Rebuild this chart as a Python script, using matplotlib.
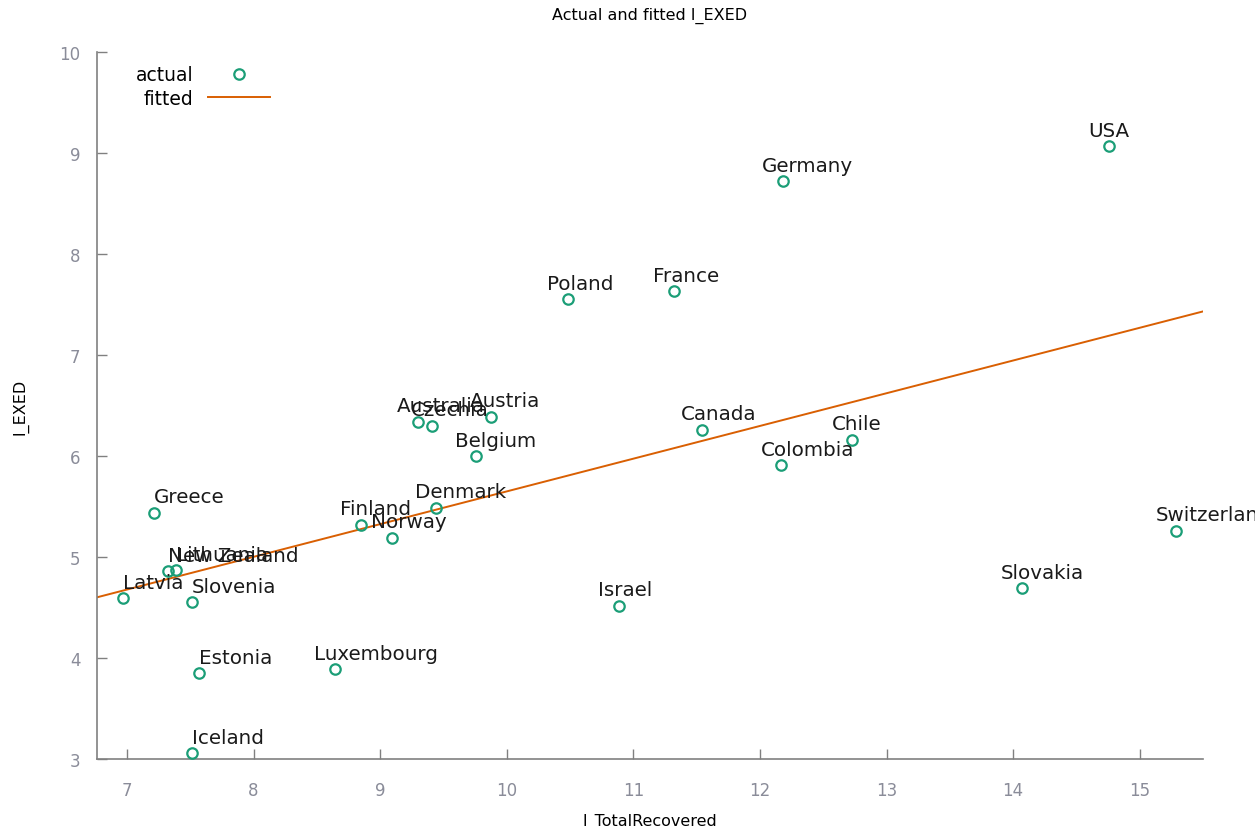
import matplotlib
matplotlib.use("Agg")
import matplotlib.pyplot as plt
import numpy as np

# country observations: log total recovered vs log EXED
countries = ["USA", "Germany", "France", "Poland", "Austria", "Australia",
             "Czechia", "Belgium", "Canada", "Chile", "Colombia", "Greece",
             "Denmark", "Finland", "Norway", "Switzerland", "New Zealand",
             "Lithuania", "Latvia", "Slovenia", "Israel", "Slovakia",
             "Estonia", "Luxembourg", "Iceland"]
l_total_recovered = [14.76, 12.18, 11.32, 10.48, 9.875, 9.30,
                     9.41, 9.76, 11.54, 12.73, 12.17, 7.21,
                     9.44, 8.85, 9.09, 15.29, 7.32,
                     7.39, 6.97, 7.51, 10.89, 14.07,
                     7.57, 8.64, 7.51]
l_exed = [9.07, 8.72, 7.63, 7.55, 6.39, 6.34,
          6.30, 6.00, 6.26, 6.16, 5.91, 5.44,
          5.49, 5.32, 5.19, 5.26, 4.86,
          4.87, 4.59, 4.55, 4.52, 4.69,
          3.85, 3.89, 3.06]

# OLS fit: l_EXED = b0 + b1 * l_TotalRecovered
b0 = 2.41
b1 = 0.324

x_ticks = [7, 8, 9, 10, 11, 12, 13, 14, 15]
y_ticks = [3, 4, 5, 6, 7, 8, 9, 10]
x_range = (6.763, 15.5)
y_range = (3, 10)

green = "#1b9e77"
orange = "#d95f02"
axis_grey = "#808080"
tick_grey = "#8a8c99"

fig = plt.figure(figsize=(12.55, 8.29), dpi=100)
ax = fig.add_axes([0.0773, 0.0832, 0.8813, 0.8528])

ax.plot(l_total_recovered, l_exed, linestyle="none", marker="o",
        markersize=7.5, markerfacecolor="none", markeredgecolor=green,
        markeredgewidth=1.6, label="actual", clip_on=False, zorder=3)

xs = np.array(x_range)
ax.plot(xs, b0 + b1 * xs, color=orange, linewidth=1.4, label="fitted")

# point labels, gretl style: above the marker
for name, x, y in zip(countries, l_total_recovered, l_exed):
    dx = 0 if x < 8 else -21
    ax.annotate(name, (x, y), xytext=(dx * 0.72, 7.5), textcoords="offset points",
                ha="left", va="baseline", fontsize=14.3, color="#1a1a1a",
                annotation_clip=False)

ax.set_xlim(*x_range)
ax.set_ylim(*y_range)
ax.set_xticks(x_ticks)
ax.set_yticks(y_ticks)

for side in ["top", "right"]:
    ax.spines[side].set_visible(False)
for side in ["left", "bottom"]:
    ax.spines[side].set_color(axis_grey)
    ax.spines[side].set_linewidth(1.2)

ax.tick_params(axis="both", direction="in", length=7, width=1,
               color=axis_grey, labelcolor=tick_grey, labelsize=12, pad=16)
ax.tick_params(axis="y", pad=12)

ax.set_title("Actual and fitted l_EXED", fontsize=11.5, pad=24)
ax.set_xlabel("l_TotalRecovered", fontsize=11.5, labelpad=10)
ax.set_ylabel("l_EXED", fontsize=11.5, labelpad=22)

ax.legend(loc="upper left", frameon=False, markerfirst=False, fontsize=13.5,
          handlelength=3.3, handletextpad=0.8, borderaxespad=0.3,
          labelspacing=0.25, bbox_to_anchor=(0.023, 1.0))

fig.savefig("out.png", dpi=100)
